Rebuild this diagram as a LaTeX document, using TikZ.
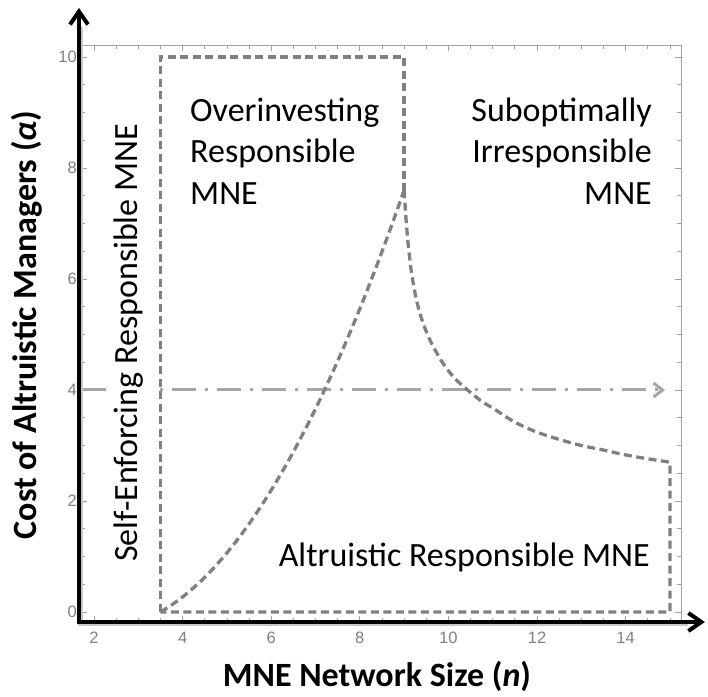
\documentclass[tikz,border=0pt]{standalone}
\usepackage{fontspec}
\setmainfont{Carlito}
\newfontfamily\tickfont{Liberation Sans}
\usetikzlibrary{arrows.meta}

\definecolor{regiongray}{HTML}{808080}
\definecolor{guidegray}{HTML}{A6A6A6}
\definecolor{framegray}{HTML}{A0A0A0}
\definecolor{tickgray}{HTML}{808080}

\tikzset{
  frameline/.style={framegray, line width=0.8pt},
  ticktext/.style={font=\tickfont\fontsize{16.5}{16.5}\selectfont, text=tickgray, inner sep=0pt},
  regionline/.style={regiongray, line width=3.3pt, dash pattern=on 8pt off 4.5pt},
  guideline/.style={guidegray, line width=3pt, dash pattern=on 24pt off 9pt on 3pt off 9pt,
    -{Straight Barb[length=9pt,width=14pt]}},
  axisline/.style={black, line width=4pt, line join=miter,
    {Straight Barb[length=13pt,width=18pt]}-{Straight Barb[length=13pt,width=18pt]}},
  axisshadow/.style={black!22, line width=4.5pt, line join=miter},
  regionlabel/.style={font=\fontsize{34}{41.5}\selectfont, inner sep=0pt},
  axislabel/.style={font=\bfseries\fontsize{34}{40}\selectfont, inner sep=0pt}
}

\begin{document}
\begin{tikzpicture}[x=44.3pt, y=55.5pt]
  % page extent (n from -0.12 to 15.86, alpha from -1.53 to 11.03)
  \useasboundingbox (-0.12190,-1.53153) rectangle (15.86005,11.02703);

  % plot frame with inward ticks
  \draw[frameline] (1.707,-0.18) rectangle (15.25,10.216);
  \foreach \i in {4,...,30} {
    \pgfmathsetmacro\t{\i/2}
    \pgfmathsetmacro\tl{mod(\i,4)==0 ? 6 : 3.5}
    \draw[frameline] (\t,10.216) -- ++(0,-\tl pt);
    \draw[frameline] (\t,-0.18) -- ++(0,\tl pt);
  }
  \foreach \i in {0,...,20} {
    \pgfmathsetmacro\t{\i/2}
    \pgfmathsetmacro\tl{mod(\i,4)==0 ? 6 : 3.5}
    \draw[frameline] (1.707,\t) -- ++(\tl pt,0);
    \draw[frameline] (15.25,\t) -- ++(-\tl pt,0);
  }

  % tick labels
  \foreach \v in {0,2,...,10}
    \node[ticktext, anchor=east] (ylbl\v) at (1.616,\v) {\v};
  \foreach \v in {2,4,...,14}
    \node[ticktext, anchor=north] (xlbl\v) at (\v,-0.36) {\v};

  % reference level alpha = 4
  \coordinate (guideA) at (1.729,4);
  \coordinate (guideB) at (14.889,4);
  \draw[guideline] (guideA) -- (guideB);

  % vertical region label (white box over the reference line)
  \node[regionlabel, rotate=90, anchor=base west, fill=white,
        text height=24pt, text depth=20pt] (selfenf) at (2.993,0.901)
        {Self-Enforcing Responsible MNE};

  % region boundaries
  \coordinate (lowleft) at (3.5,0);
  \coordinate (topleft) at (3.5,10);
  \coordinate (topright) at (9,10);
  \coordinate (peak) at (9,7.6);
  \coordinate (tailend) at (15,2.7);
  \coordinate (lowright) at (15,0);

  \draw[regionline] (lowleft) -- (topleft) -- (topright) -- (peak);
  \draw[regionline] plot[domain=3.5:9, samples=60]
        (\x,{0.168*(\x-3.5)^2+0.458*(\x-3.5)});
  \draw[regionline] plot[smooth] coordinates {
        (9,7.60) (9.04,7.12) (9.09,6.64) (9.17,6.10) (9.28,5.62) (9.43,5.20)
        (9.62,4.84) (9.88,4.48) (10.18,4.18) (10.71,3.82) (11.01,3.67)
        (11.5,3.42) (12,3.24) (12.5,3.11) (13,3.00) (13.49,2.92) (14,2.83)
        (14.5,2.76) (15,2.70)}
        -- (lowright) -- (lowleft);

  % region labels (base anchor sits on the last line)
  \node[regionlabel, anchor=base west, align=left] (overinv) at (4.167,7.351)
        {Overinvesting\\Responsible\\MNE};
  \node[regionlabel, anchor=base east, align=right] (subopt) at (14.596,7.351)
        {Suboptimally\\Irresponsible\\MNE};
  \node[regionlabel, anchor=base east] (altru) at (14.551,0.811)
        {Altruistic Responsible MNE};

  % axes
  \coordinate (origin) at (1.661,-0.18);
  \coordinate (ytip) at (1.661,10.883);
  \coordinate (xtip) at (15.79,-0.18);
  \begin{scope}[transform canvas={shift={(1.3pt,-1.3pt)}}]
    \draw[axisshadow] ([yshift=-18pt]ytip) -- (origin) -- ([xshift=-18pt]xtip);
  \end{scope}
  \draw[axisline] (ytip) -- (origin) -- (xtip);

  % axis titles
  \node[axislabel, rotate=90, anchor=base] (ytitle) at (0.713,5.171)
        {Cost of Altruistic Managers (\textit{α})};
  \node[axislabel, anchor=base] (xtitle) at (8.388,-1.351)
        {MNE Network Size (\textit{n})};
\end{tikzpicture}
\end{document}
